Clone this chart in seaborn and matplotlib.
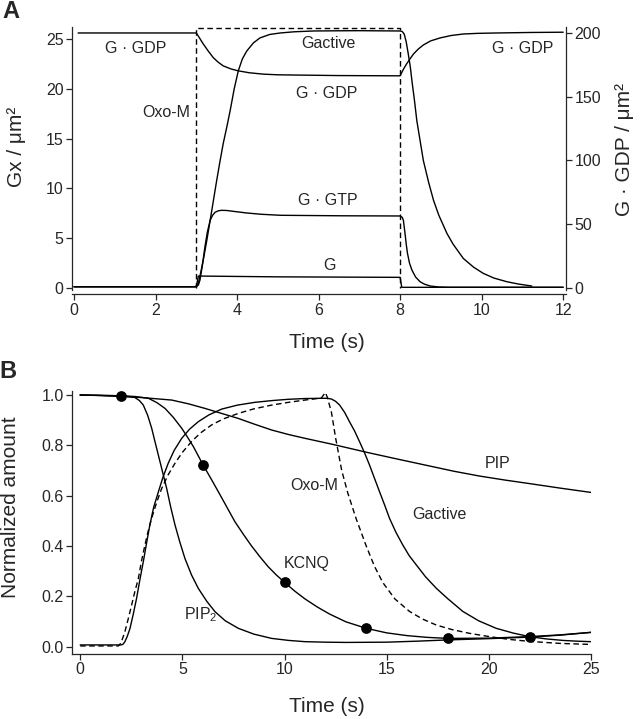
import numpy as np
import matplotlib
matplotlib.use('Agg')
import matplotlib.pyplot as plt
import seaborn as sns

# ---- panel A data (Gx / um^2, G.GDP on right axis) ----
t_oxo_a = [3.0, 3.0, 8.0, 8.0]
oxo_a = [0.0, 26.1, 26.1, 0.0]

t_gact_a = [0, 2.95, 3.0, 3.05, 3.1, 3.17, 3.25, 3.34, 3.42, 3.5, 3.58, 3.66, 3.75, 3.83, 3.93,
            4.03, 4.13, 4.24, 4.4, 4.56, 4.8, 5.06, 5.4, 5.87, 6.5, 7.0, 8.0,
            8.05, 8.1, 8.15, 8.2, 8.25, 8.29, 8.35, 8.41, 8.49, 8.57, 8.7, 8.82, 8.95, 9.15,
            9.3, 9.55, 9.8, 10.04, 10.3, 10.62, 10.9, 11.23]
gact_a = [0.13, 0.13, 0.2, 0.47, 1.4, 2.8, 4.6, 6.8, 8.8, 10.8, 12.7, 14.5, 16.2, 17.8, 20.0,
          21.8, 23.0, 23.8, 24.6, 25.1, 25.45, 25.6, 25.72, 25.8, 25.82, 25.83, 25.8,
          25.75, 25.5, 24.7, 23.5, 22.2, 20.8, 18.9, 16.8, 14.8, 12.8, 10.6, 8.8, 7.3, 5.47,
          4.4, 2.97, 2.1, 1.47, 1.0, 0.63, 0.4, 0.2]

t_gtp_a = [0, 3.0, 3.05, 3.09, 3.15, 3.21, 3.27, 3.34, 3.4, 3.46, 3.54, 3.62, 3.75, 3.9, 4.24,
           4.6, 5.06, 6.53, 8.0, 8.05, 8.08, 8.12, 8.15, 8.18, 8.23, 8.29, 8.38, 8.49, 8.6,
           8.74, 8.95, 9.2, 12.0]
gtp_a = [0.13, 0.13, 0.3, 0.8, 2.3, 4.1, 5.6, 6.8, 7.3, 7.6, 7.75, 7.8, 7.78, 7.7, 7.53,
         7.4, 7.3, 7.25, 7.23, 7.1, 6.8, 5.5, 4.4, 3.5, 2.5, 1.8, 1.1, 0.63, 0.38,
         0.2, 0.1, 0.07, 0.07]

t_g_a = [0, 3.0, 3.05, 5.0, 8.0, 8.04, 12.0]
g_a = [0.13, 0.13, 1.2, 1.12, 1.07, 0.07, 0.07]

t_gdp_a = [0.1, 3.0, 3.08, 3.17, 3.3, 3.42, 3.54, 3.66, 3.85, 4.03, 4.3, 4.65, 5.0, 5.46, 6.5,
           8.0, 8.08, 8.16, 8.25, 8.33, 8.45, 8.57, 8.75, 8.98, 9.25, 9.55, 9.9, 10.37, 11.2, 12.0]
gdp_a = [200, 200, 196.0, 191.4, 185.5, 180.5, 177.0, 174.2, 171.8, 170.3, 168.8, 167.7, 167.2,
         167.0, 166.6, 166.4, 171.5, 175.8, 180.0, 183.6, 187.5, 190.6, 193.8, 196.1, 198.0,
         199.2, 199.7, 200.0, 200.4, 200.6]

# ---- panel B data (normalized) ----
t_pip = [0, 1, 2, 3, 4.48, 5.3, 6.1, 7.0, 7.74, 8.5, 9.37, 10.2, 11.0, 12.3, 14.1, 15.5, 17.1,
         18.3, 19.55, 20.8, 22.0, 23.5, 25.0]
pip = [1.0, 0.998, 0.994, 0.99, 0.98, 0.965, 0.947, 0.925, 0.907, 0.885, 0.861, 0.843, 0.828,
       0.805, 0.771, 0.746, 0.718, 0.697, 0.678, 0.662, 0.648, 0.63, 0.613]

t_pip2 = [0, 2, 2.4, 2.68, 2.9, 3.09, 3.3, 3.5, 3.66, 3.83, 4.03, 4.23, 4.43, 4.64, 4.88, 5.13,
          5.45, 5.78, 6.2, 6.6, 7.1, 7.74, 8.5, 9.37, 10.2, 11.0, 12.0, 13.0, 15.0, 16.5, 18.0,
          20.0, 22.0, 23.5, 25.0]
pip2 = [1.0, 0.997, 0.994, 0.99, 0.978, 0.96, 0.92, 0.868, 0.815, 0.76, 0.695, 0.63, 0.555, 0.484,
        0.415, 0.35, 0.285, 0.232, 0.18, 0.139, 0.103, 0.073, 0.05, 0.033, 0.025, 0.02, 0.018,
        0.017, 0.018, 0.022, 0.027, 0.032, 0.038, 0.046, 0.057]

t_kcnq = [0, 2, 2.7, 3.34, 3.75, 4.15, 4.55, 4.97, 5.25, 5.54, 6.03, 6.4, 6.76, 7.17, 7.57, 8.0,
          8.39, 8.8, 9.2, 9.6, 10.0, 10.5, 11.0, 11.6, 12.2, 13.0, 14.0, 15.0, 16.0, 17.0, 18.0,
          20.0, 22.0, 23.5, 25.0]
kcnq = [1.0, 0.997, 0.994, 0.987, 0.97, 0.947, 0.912, 0.868, 0.833, 0.795, 0.72, 0.668, 0.616,
        0.556, 0.497, 0.445, 0.40, 0.357, 0.318, 0.285, 0.256, 0.221, 0.19, 0.158, 0.13, 0.099,
        0.073, 0.055, 0.044, 0.037, 0.033, 0.034, 0.04, 0.047, 0.057]

t_dots = [2, 6, 10, 14, 18, 22]
kcnq_dots = [0.997, 0.72, 0.256, 0.073, 0.033, 0.04]

t_gact_b = [0, 2.0, 2.1, 2.19, 2.3, 2.44, 2.6, 2.76, 2.92, 3.09, 3.25, 3.41, 3.6, 3.83, 4.05, 4.31,
            4.6, 4.97, 5.35, 5.78, 6.3, 6.92, 7.7, 8.55, 9.4, 10.18, 11.0, 11.81, 12.1, 12.3, 12.5,
            12.7, 12.95, 13.18, 13.43, 13.67, 13.92, 14.16, 14.4, 14.65, 14.9, 15.14, 15.45, 15.79,
            16.1, 16.45, 16.9, 17.43, 18.0, 18.73, 19.5, 20.36, 21.2, 22.0, 22.8, 23.62, 24.3, 25.0]
gact_b = [0.007, 0.007, 0.01, 0.02, 0.04, 0.073, 0.13, 0.192, 0.265, 0.338, 0.412, 0.484, 0.555,
          0.616, 0.673, 0.729, 0.78, 0.828, 0.864, 0.894, 0.921, 0.944, 0.96, 0.971, 0.978, 0.983,
          0.986, 0.987, 0.987, 0.984, 0.975, 0.96, 0.93, 0.894, 0.857, 0.815, 0.77, 0.722, 0.67,
          0.616, 0.563, 0.51, 0.455, 0.404, 0.362, 0.325, 0.278, 0.232, 0.19, 0.14, 0.103, 0.073,
          0.054, 0.04, 0.031, 0.025, 0.022, 0.02]

t_oxo_b = [0, 1.87, 2.0, 2.19, 2.35, 2.52, 2.68, 2.85, 3.0, 3.17, 3.33, 3.5, 3.75, 3.99, 4.3, 4.64,
           5.0, 5.45, 5.9, 6.43, 7.0, 7.74, 8.5, 9.37, 10.2, 11.0, 11.5, 11.81, 12.0, 12.1, 12.2,
           12.3, 12.4, 12.5, 12.65, 12.8, 12.95, 13.1, 13.3, 13.5, 13.75, 14.0, 14.4, 14.81, 15.4,
           16.12, 16.75, 17.43, 18.2, 19.06, 20.03, 21.0, 22.0, 23.5, 25.0]
oxo_b = [0.003, 0.003, 0.015, 0.06, 0.11, 0.166, 0.22, 0.272, 0.34, 0.404, 0.46, 0.511, 0.575,
         0.629, 0.682, 0.729, 0.772, 0.815, 0.85, 0.881, 0.905, 0.927, 0.945, 0.96, 0.971, 0.98,
         0.985, 0.989, 1.01, 0.99, 0.96, 0.93, 0.88, 0.83, 0.765, 0.70, 0.655, 0.61, 0.56, 0.51,
         0.455, 0.40, 0.32, 0.255, 0.19, 0.14, 0.11, 0.086, 0.068, 0.053, 0.04, 0.029, 0.021,
         0.013, 0.009]

sns.set_style('ticks')
plt.rcParams['font.family'] = ['Liberation Sans', 'DejaVu Sans']
plt.rcParams['mathtext.fontset'] = 'custom'
plt.rcParams['mathtext.rm'] = 'Liberation Sans'
plt.rcParams['axes.linewidth'] = 0.9

fig = plt.figure(figsize=(6.4, 7.19), dpi=100)
axA = fig.add_axes([72/640, 1-290/719, 494/640, 263/719])
axA2 = axA.twinx()
axB = fig.add_axes([72/640, 1-654/719, 519/640, 263/719])

lw = 1.0
solid = dict(color='black', linewidth=lw, estimator=None, sort=False, legend=False)
dashed = dict(color='black', linewidth=lw, estimator=None, sort=False, legend=False,
              linestyle=(0, (4, 2.5)))

# panel A
sns.lineplot(x=t_gact_a, y=gact_a, ax=axA, **solid)
sns.lineplot(x=t_gtp_a, y=gtp_a, ax=axA, **solid)
sns.lineplot(x=t_g_a, y=g_a, ax=axA, **solid)
sns.lineplot(x=t_oxo_a, y=oxo_a, ax=axA, **dashed)
sns.lineplot(x=t_gdp_a, y=gdp_a, ax=axA2, **solid)

ylo, yhi = -0.2, 26.2
axA.set_xlim(-0.05, 12.07)
axA.set_ylim(ylo, yhi)
axA2.set_ylim(ylo * 200 / 25.6, yhi * 200 / 25.6)
axA.set_xticks(np.arange(0, 13, 2))
axA.set_yticks(np.arange(0, 26, 5))
axA2.set_yticks(np.arange(0, 201, 50))
for a in (axA, axA2):
    a.spines['top'].set_visible(False)
    a.tick_params(direction='out', length=4, width=0.9, labelsize=11.5, pad=2)
axA.spines['right'].set_visible(False)
axA2.spines['left'].set_visible(False)
axA2.spines['bottom'].set_visible(False)
axA.spines['bottom'].set_position(('outward', 3))
axA.set_xlabel('')
axA.set_ylabel('')
axA2.set_ylabel('')

ann = dict(fontsize=11.5, ha='center', va='center')
axA.text(1.52, 24.0, 'G · GDP', **ann)
axA.text(6.23, 24.5, 'Gactive', **ann)
axA.text(6.2, 19.5, 'G · GDP', **ann)
axA.text(2.86, 17.6, 'Oxo-M', fontsize=11.5, ha='right', va='center')
axA.text(6.22, 8.8, 'G · GTP', **ann)
axA.text(6.27, 2.3, 'G', **ann)
axA.text(11.0, 24.0, 'G · GDP', **ann)

# panel B
sns.lineplot(x=t_pip, y=pip, ax=axB, **solid)
sns.lineplot(x=t_pip2, y=pip2, ax=axB, **solid)
sns.lineplot(x=t_kcnq, y=kcnq, ax=axB, **solid)
sns.lineplot(x=t_gact_b, y=gact_b, ax=axB, **solid)
sns.lineplot(x=t_oxo_b, y=oxo_b, ax=axB, **dashed)
sns.scatterplot(x=t_dots, y=kcnq_dots, ax=axB, color='black', s=60, edgecolor='black',
                linewidth=0, zorder=5, legend=False)

axB.set_xlim(-0.4, 25.0)
axB.set_ylim(-0.029, 1.016)
axB.set_xticks(np.arange(0, 26, 5))
yt = np.arange(0, 1.01, 0.2)
axB.set_yticks(yt)
axB.set_yticklabels([f'{v:.1f}' for v in yt])
axB.spines['top'].set_visible(False)
axB.spines['right'].set_visible(False)
axB.tick_params(direction='out', length=4, width=0.9, labelsize=11.5, pad=2)
axB.set_xlabel('')
axB.set_ylabel('')

axB.text(20.45, 0.726, 'PIP', **ann)
axB.text(17.6, 0.527, 'Gactive', **ann)
axB.text(11.45, 0.642, 'Oxo-M', **ann)
axB.text(11.1, 0.332, 'KCNQ', **ann)
axB.text(5.9, 0.126, r'PIP$_2$', **ann)

# axis titles and panel letters
fig.text(17/640, 1-147/719, 'Gx / μm²', rotation=90, fontsize=15, ha='center', va='center')
fig.text(625/640, 1-150/719, 'G · GDP / μm²', rotation=90, fontsize=15, ha='center', va='center')
fig.text(327/640, 1-343/719, 'Time (s)', fontsize=15, ha='center', va='center')
fig.text(11/640, 1-507/719, 'Normalized amount', rotation=90, fontsize=15, ha='center', va='center')
fig.text(327/640, 1-707/719, 'Time (s)', fontsize=15, ha='center', va='center')
fig.text(11/640, 1-12/719, 'A', fontsize=17, fontweight='bold', ha='center', va='center')
fig.text(8/640, 1-371/719, 'B', fontsize=17, fontweight='bold', ha='center', va='center')

fig.savefig('out.png', dpi=100)
